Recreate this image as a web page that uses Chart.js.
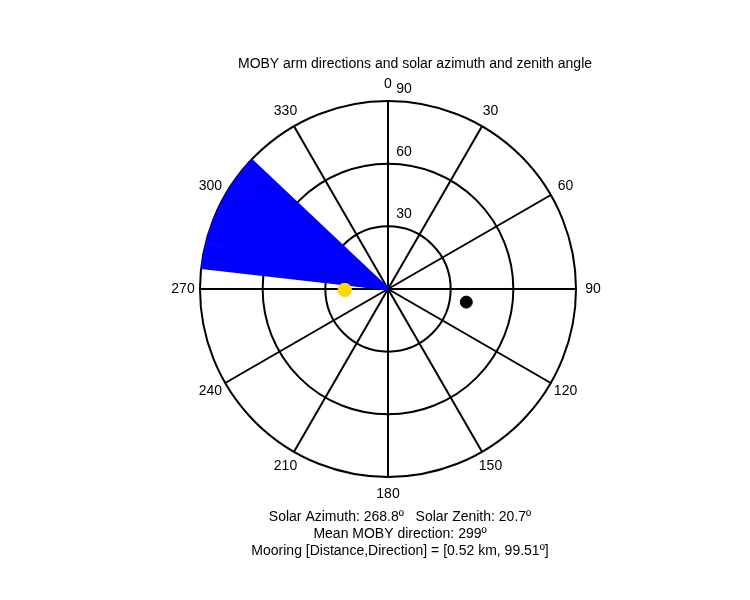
<!DOCTYPE html>
<html>
<head>
<meta charset="utf-8">
<script src="https://cdn.jsdelivr.net/npm/chart.js@4"></script>
<style>body{margin:0;background:#fff}#wrap{width:750px;height:600px}</style>
</head>
<body>
<div id="wrap"><canvas id="myChart"></canvas></div>
<script>
(()=>{
    const armDirections = [276.5,277,277.4,277.9,278.3,278.8,279.2,279.7,280.1,280.6,281,281.5,282,282.4,282.9,283.3,283.8,284.5,285.1,285.6,286.2,286.8,287.3,287.9,288.5,289,289.6,290.2,290.8,291.3,291.9,292.5,293,293.6,294.1,294.7,295.3,295.8,296.4,297,297.5,298.1,298.7,299.2,299.8,300.4,300.9,301.5,302.1,302.7,303.2,303.8,304.4,305,305.6,306.2,306.8,307.4,308,308.6,309.2,309.8,310.4,311,311.6,312.2,312.8,313.4];
    const armLength = 90;
    const solarAzimuth = 268.8;
    const solarZenith = 20.7;
    const mooringDirection = 99.51;
    const mooringRadius = 38;
    const spokeAngles = [0,30,60,90,120,150,180,210,240,270,300,330];
    const ringValues = [30,60,90];

    const toXY = (deg, r) => {
        const a = deg * Math.PI / 180;
        return {x: r * Math.sin(a), y: r * Math.cos(a)};
    };

    const datasets = armDirections.map(d => ({
        data: [{x:0,y:0}, toXY(d, armLength)],
        showLine: true, borderColor: '#0000ff', borderWidth: 2.5,
        pointRadius: 0, order: 2
    }));
    datasets.push({
        data: [toXY(solarAzimuth, solarZenith)],
        pointStyle: 'star', pointRadius: 7, borderWidth: 5,
        borderColor: '#ffd800', backgroundColor: '#ffd800', order: 1
    });
    datasets.push({
        data: [toXY(mooringDirection, mooringRadius)],
        pointStyle: 'circle', pointRadius: 6,
        borderColor: '#000', backgroundColor: '#000', order: 1
    });

    const polarGrid = {
        id: 'polarGrid',
        beforeDatasetsDraw(chart) {
            const {ctx, scales: {x, y}} = chart;
            const cx = x.getPixelForValue(0), cy = y.getPixelForValue(0);
            ctx.save();
            ctx.strokeStyle = '#000';
            ctx.lineWidth = 2;
            for (const r of ringValues) {
                const rp = x.getPixelForValue(r) - cx;
                ctx.beginPath();
                ctx.arc(cx, cy, rp, 0, Math.PI * 2);
                ctx.stroke();
            }
            for (const a of spokeAngles.slice(0, 6)) {
                const p1 = toXY(a, 90), p2 = toXY(a + 180, 90);
                ctx.beginPath();
                ctx.moveTo(x.getPixelForValue(p1.x), y.getPixelForValue(p1.y));
                ctx.lineTo(x.getPixelForValue(p2.x), y.getPixelForValue(p2.y));
                ctx.stroke();
            }
            ctx.restore();
        },
        afterDraw(chart) {
            const {ctx, scales: {x, y}} = chart;
            const cx = x.getPixelForValue(0), cy = y.getPixelForValue(0);
            const R = x.getPixelForValue(90) - cx;
            ctx.save();
            ctx.fillStyle = '#000';
            ctx.font = '14px Arial, "Liberation Sans", sans-serif';
            ctx.textAlign = 'center';
            ctx.textBaseline = 'middle';
            for (const a of spokeAngles) {
                const p = toXY(a, 1);
                ctx.fillText(String(a), cx + p.x * (R + 17), cy - p.y * (R + 17));
            }
            for (const r of ringValues) {
                const rp = x.getPixelForValue(r) - cx;
                ctx.fillText(String(r), cx + 16, cy - rp - 12);
            }
            ctx.fillText('MOBY arm directions and solar azimuth and zenith angle', cx + 27, 64);
            ctx.fillText('Solar Azimuth: 268.8\u00BA   Solar Zenith: 20.7\u00BA', cx + 12, 517);
            ctx.fillText('Mean MOBY direction: 299\u00BA', cx + 12, 534);
            ctx.fillText('Mooring [Distance,Direction] = [0.52 km, 99.51\u00BA]', cx + 12, 551);
            ctx.restore();
        }
    };

    new Chart(document.getElementById('myChart'), {
        type: 'scatter',
        data: {datasets},
        options: {
            responsive: true, maintainAspectRatio: false, animation: false,
            layout: {padding: {left: 200, right: 174, top: 101, bottom: 123}},
            plugins: {legend: {display: false}, tooltip: {enabled: false}},
            scales: {
                x: {display: false, min: -90, max: 90},
                y: {display: false, min: -90, max: 90}
            }
        },
        plugins: [polarGrid]
    });
})()
</script>
</body>
</html>
